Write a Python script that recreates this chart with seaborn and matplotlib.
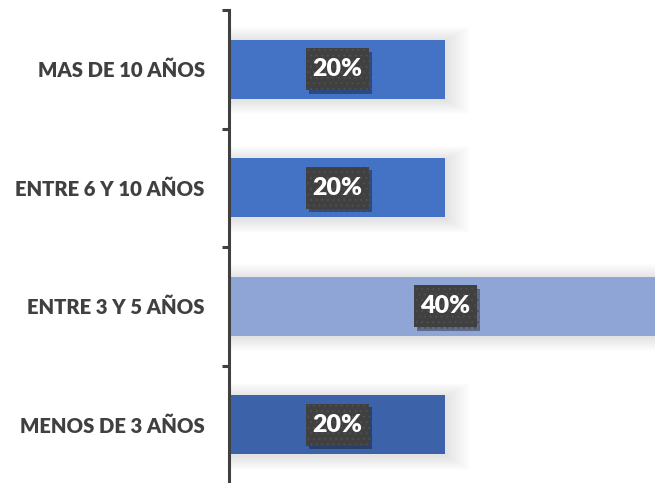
import matplotlib
matplotlib.use("Agg")
import matplotlib.pyplot as plt
import matplotlib.patheffects as pe
from matplotlib.patches import Rectangle
from matplotlib.ticker import FixedLocator
import seaborn as sns
import pandas as pd

# Data
categories = ["MAS DE 10 AÑOS", "ENTRE 6 Y 10 AÑOS", "ENTRE 3 Y 5 AÑOS", "MENOS DE 3 AÑOS"]
shares = [0.20, 0.20, 0.40, 0.20]
value_labels = ["20%", "20%", "40%", "20%"]
bar_colors = ["#4472C4", "#4472C4", "#8EA5D6", "#3C63AA"]

sns.set_theme(style="white")
plt.rcParams["font.family"] = ["Lato", "DejaVu Sans"]
plt.rcParams["hatch.linewidth"] = 0.7

df = pd.DataFrame({"categoria": categories, "valor": shares})

W, H = 655, 483
fig = plt.figure(figsize=(W / 100, H / 100), dpi=100)
fig.patch.set_facecolor("white")

left_px = 229
ax = fig.add_axes([left_px / W, -1 / H, 1 - left_px / W, 474 / H])
ax.set_facecolor("white")

sns.barplot(data=df, y="categoria", x="valor", hue="categoria",
            palette=bar_colors, orient="h", width=0.5, legend=False,
            saturation=1, linewidth=0, edgecolor="none", ax=ax, zorder=3)

ax.set_xlim(0, 426 / 1080)
ax.set_ylim(3.5, -0.5)

# pixel -> data scale factors
px_x = 1 / 1080
px_y = 1 / 118.5

# soft halo around each bar
for p in list(ax.patches):
    x0, y0 = p.get_x(), p.get_y()
    w, h = p.get_width(), p.get_height()
    for k in range(1, 15):
        ax.add_patch(Rectangle((x0, y0 - k * 1.0 * px_y + 1.5 * px_y),
                               w + k * 1.8 * px_x, h + k * 2.0 * px_y,
                               facecolor="black", edgecolor="none",
                               alpha=0.009, zorder=1))

# value labels in dark dotted boxes
box_w, box_h = 63 * px_x, 42 * px_y
for i, (v, lab) in enumerate(zip(shares, value_labels)):
    cx = v / 2
    box = Rectangle((cx - box_w / 2, i - box_h / 2), box_w, box_h,
                    facecolor="#404040", edgecolor="#4f4f4f", linewidth=0,
                    hatch="...", zorder=5)
    box.set_path_effects([pe.SimplePatchShadow(offset=(2.5, -2.5), shadow_rgbFace="black", alpha=0.35),
                          pe.Normal()])
    ax.add_patch(box)
    ax.text(cx, i, lab, ha="center", va="center", color="white",
            fontsize=18, fontweight="heavy", zorder=6)

# axis styling
for s in ["top", "right", "bottom"]:
    ax.spines[s].set_visible(False)
ax.spines["left"].set_color("#404040")
ax.spines["left"].set_linewidth(2.2)
ax.spines["left"].set_zorder(7)

ax.set_xticks([])
ax.set_xlabel("")
ax.set_ylabel("")
ax.yaxis.set_minor_locator(FixedLocator([-0.5, 0.5, 1.5, 2.5, 3.5]))
ax.tick_params(axis="y", which="major", length=0, pad=17.5,
               labelsize=14.6, labelcolor="#404040")
ax.tick_params(axis="y", which="minor", left=True, length=5, width=2.2,
               color="#404040", direction="out")
for lbl in ax.get_yticklabels():
    lbl.set_fontweight("heavy")

fig.savefig("out.png", dpi=100, facecolor="white")
